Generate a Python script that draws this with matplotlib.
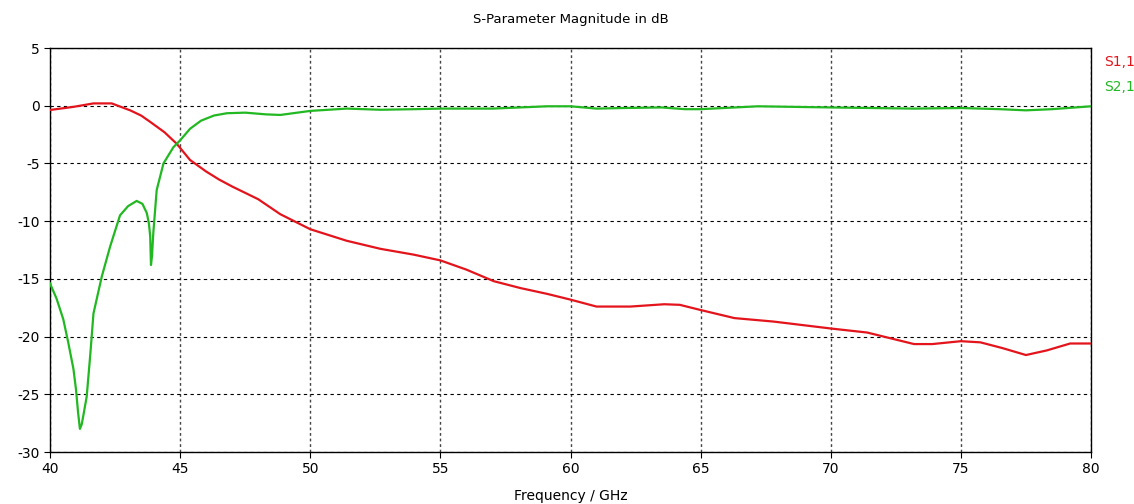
import matplotlib
matplotlib.use('Agg')
from matplotlib import pyplot as plt
import numpy as np

plt.rcParams['font.family'] = ['DejaVu Sans']
plt.rcParams['axes.unicode_minus'] = False

# S1,1 readings (frequency in GHz, magnitude in dB)
f_s11 = [40.0, 40.9, 41.67, 42.37, 43.08, 43.5, 43.85, 44.4, 44.87, 45.38, 46.0, 46.5, 47.0, 48.0,
         48.85, 50.0, 51.4, 52.7, 53.97, 55.0, 56.0, 57.05, 58.08, 59.1, 60.0, 61.0,
         62.3, 63.6, 64.2, 65.0, 66.3, 67.8, 70.0, 71.4, 72.3, 73.2, 73.9, 75.0, 75.75,
         76.6, 77.5, 78.3, 79.2, 80.0]
s11 = [-0.37, -0.1, 0.2, 0.2, -0.4, -0.85, -1.4, -2.3, -3.3, -4.7, -5.7, -6.4, -7.0, -8.1,
       -9.4, -10.7, -11.7, -12.4, -12.9, -13.4, -14.2, -15.2, -15.8, -16.3, -16.8, -17.4,
       -17.4, -17.2, -17.25, -17.7, -18.4, -18.7, -19.3, -19.65, -20.15, -20.65, -20.65, -20.4, -20.5,
       -21.0, -21.6, -21.2, -20.6, -20.6]

# S2,1 readings
f_s21 = [40.0, 40.25, 40.51, 40.7, 40.9, 41.0, 41.08, 41.15, 41.22, 41.3, 41.41, 41.55, 41.67, 41.99, 42.31,
         42.69, 43.0, 43.33, 43.55, 43.72, 43.8, 43.85, 43.88, 43.92, 43.97, 44.1, 44.36, 44.74,
         45.0, 45.38, 45.8, 46.3, 46.8, 47.5, 48.3, 48.85, 50.0, 51.4, 52.7, 54.0,
         55.0, 57.0, 59.1, 60.0, 61.0, 62.0, 63.5, 64.4, 65.0, 67.2, 70.0, 73.2,
         75.0, 76.5, 77.5, 78.5, 80.0]
s21 = [-15.4, -16.7, -18.5, -20.5, -22.8, -24.6, -26.6, -28.0, -27.6, -26.6, -25.2, -21.5, -18.0, -14.8, -12.2,
       -9.5, -8.7, -8.25, -8.5, -9.3, -10.2, -11.3, -13.8, -13.0, -11.0, -7.3, -5.0, -3.6,
       -3.0, -2.0, -1.3, -0.85, -0.65, -0.6, -0.75, -0.8, -0.45, -0.25, -0.35, -0.3,
       -0.25, -0.25, -0.05, -0.05, -0.25, -0.2, -0.15, -0.3, -0.3, -0.05, -0.15, -0.25,
       -0.2, -0.3, -0.4, -0.3, -0.05]

red = '#e3141c'
green = '#22b822'

fig = plt.figure(figsize=(11.34, 5.04), dpi=100)
ax = fig.add_axes([50 / 1134, 1 - 452 / 504, 1041 / 1134, 404 / 504])

ax.plot(f_s11, s11, color=red, lw=1.6, zorder=3)
ax.plot(f_s21, s21, color=green, lw=1.6, zorder=3)

ax.set_xlim(40, 80)
ax.set_ylim(-30, 5)
ax.set_xticks(np.arange(40, 81, 5))
ax.set_yticks(np.arange(-30, 6, 5))
ax.grid(True, axis='y', color='black', ls=(0, (3, 3)), lw=0.8)
ax.grid(True, axis='x', color='#444444', ls=(0, (2, 2)), lw=1.0)
ax.tick_params(direction='out', length=4, labelsize=10, colors='black')
for sp in ax.spines.values():
    sp.set_linewidth(1.0)

fig.text(0.5 * (50 + 1091) / 1134, 1 - 20 / 504, 'S-Parameter Magnitude in dB',
         ha='center', va='center', fontsize=9.5)
ax.set_xlabel('Frequency / GHz', fontsize=10, labelpad=9)
fig.text(1104 / 1134, 1 - 62 / 504, 'S1,1', color=red, fontsize=10, va='center')
fig.text(1104 / 1134, 1 - 87 / 504, 'S2,1', color=green, fontsize=10, va='center')

fig.savefig('out.png', dpi=100)
